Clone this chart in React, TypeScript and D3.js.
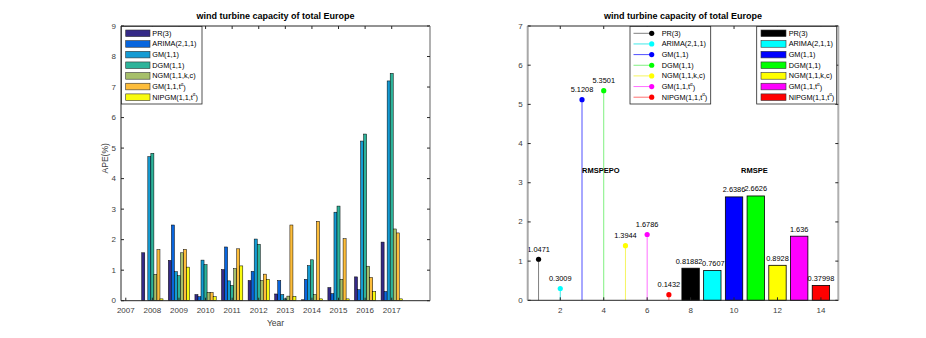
import React from "react";
import * as d3 from "d3";

const years = [2007, 2008, 2009, 2010, 2011, 2012, 2013, 2014, 2015, 2016, 2017];
const models = ["PR(3)", "ARIMA(2,1,1)", "GM(1,1)", "DGM(1,1)", "NGM(1,1,k,c)", "GM(1,1,t", "NIPGM(1,1,t"];
const modelSup = [false, false, false, false, false, true, true];
const prAPE = [0, 1.57, 1.32, 0.2, 1.02, 0.66, 0.22, 0.03, 0.43, 0.78, 1.92];
const arimaAPE = [0, 0, 2.48, 0.13, 1.76, 0.96, 0.66, 0.7, 0.23, 0.36, 0.3];
const gmAPE = [0, 4.72, 0.95, 1.33, 0.65, 2.02, 0.2, 1.15, 2.9, 5.23, 7.2];
const dgmAPE = [0, 4.83, 0.82, 1.18, 0.5, 1.85, 0.06, 1.34, 3.1, 5.46, 7.45];
const ngmAPE = [0, 0.86, 1.57, 0.27, 1.05, 0.66, 0.15, 0.2, 0.7, 1.13, 2.35];
const gmtAPE = [0, 1.67, 1.68, 0.27, 1.7, 0.87, 2.48, 2.6, 2.03, 0.76, 2.22];
const nipgmAPE = [0, 0.06, 1.1, 0.13, 1.14, 0.7, 0.14, 0.06, 0.06, 0.3, 0.06];
const apeSeries = [prAPE, arimaAPE, gmAPE, dgmAPE, ngmAPE, gmtAPE, nipgmAPE];
const parulaColors = ["#352a87", "#0865dd", "#149bd3", "#2db39a", "#a6bf6a", "#fdbd3a", "#f9fb0e"];
const leftYTicks = [0, 1, 2, 3, 4, 5, 6, 7, 8, 9];

const rmspepoX = [1, 2, 3, 4, 5, 6, 7];
const rmspepo = [1.0471, 0.3009, 5.1208, 5.3501, 1.3944, 1.6786, 0.1432];
const rmspepoLabels = ["1.0471", "0.3009", "5.1208", "5.3501", "1.3944", "1.6786", "0.1432"];
const rmspeX = [8, 9, 10, 11, 12, 13, 14];
const rmspe = [0.81882, 0.7607, 2.6386, 2.6626, 0.8928, 1.636, 0.37998];
const rmspeLabels = ["0.81882", "0.7607", "2.6386", "2.6626", "0.8928", "1.636", "0.37998"];
const pureColors = ["#000000", "#00ffff", "#0000ff", "#00ff00", "#ffff00", "#ff00ff", "#ff0000"];
const stemColors = ["#808080", "#40e8e8", "#5050ff", "#80f080", "#f5f560", "#ff70ff", "#ff7070"];
const rightXTicks = [2, 4, 6, 8, 10, 12, 14];
const rightYTicks = [0, 1, 2, 3, 4, 5, 6, 7];

const FONT = "'Liberation Sans', Arial, Helvetica, sans-serif";
const AX = "#262626";
const TICK = "#404040";

function LegendLabel({ i, x, y }: { i: number; x: number; y: number }) {
  return (
    <text x={x} y={y} fontSize={7.3} fill="#000" dominantBaseline="central">
      {models[i]}
      {modelSup[i] ? (
        <>
          <tspan fontSize={4.5} dy={-3}>α</tspan>
          <tspan dy={3}>)</tspan>
        </>
      ) : null}
    </text>
  );
}

export default function App() {
  const L = { x0: 121, x1: 430, y0: 300.7, y1: 26 };
  const xl = d3.scaleLinear().domain([2006.82, 2018.44]).range([L.x0, L.x1]);
  const yl = d3.scaleLinear().domain([0, 9]).range([L.y0, L.y1]);
  const bw = 0.8 / 7;
  const bwPx = xl(2007 + bw) - xl(2007);

  const R = { x0: 527.7, x1: 838.3, y0: 300.3, y1: 26 };
  const xr = d3.scaleLinear().domain([0.5, 14.8]).range([R.x0, R.x1]);
  const yr = d3.scaleLinear().domain([0, 7]).range([R.y0, R.y1]);
  const barW = xr(1.8) - xr(1);

  const rowY = (k: number) => 33.3 + k * 10.65;

  return (
    <svg width={926} height={338} style={{ display: "block", position: "absolute", left: 0, top: 0 }} fontFamily={FONT}>
      <rect width={926} height={338} fill="#fff" />
      {/* ===== LEFT CHART ===== */}
      <g>
        {apeSeries.map((s, si) =>
          s.map((v, yi) => {
            const cx = years[yi] + (si - 3) * bw;
            const x = xl(cx) - bwPx / 2;
            const h = L.y0 - yl(v);
            return (
              <rect key={`b${si}-${yi}`} x={x} y={yl(v)} width={bwPx} height={Math.max(h, 0)}
                fill={parulaColors[si]} stroke="#000" strokeWidth={0.5} />
            );
          })
        )}
        <line x1={L.x0} x2={L.x1} y1={L.y0} y2={L.y0} stroke={AX} strokeWidth={1} />
        <line x1={L.x0} x2={L.x1} y1={L.y1} y2={L.y1} stroke={AX} strokeWidth={1} />
        <line x1={L.x0} x2={L.x0} y1={L.y1} y2={L.y0} stroke={AX} strokeWidth={1} />
        <line x1={L.x1} x2={L.x1} y1={L.y1} y2={L.y0} stroke="#b0b0b0" strokeWidth={2} />
        {leftYTicks.map((t) => (
          <g key={`ly${t}`}>
            <line x1={L.x0} x2={L.x0 + 3} y1={yl(t)} y2={yl(t)} stroke={AX} />
            <line x1={L.x1 - 3} x2={L.x1} y1={yl(t)} y2={yl(t)} stroke={AX} />
            <text x={L.x0 - 5} y={yl(t)} fontSize={8} fill={TICK} textAnchor="end" dominantBaseline="central">{t}</text>
          </g>
        ))}
        {years.map((t) => (
          <g key={`lx${t}`}>
            <line x1={xl(t)} x2={xl(t)} y1={L.y0} y2={L.y0 - 3} stroke={AX} />
            <line x1={xl(t)} x2={xl(t)} y1={L.y1} y2={L.y1 + 3} stroke={AX} />
            <text x={xl(t)} y={L.y0 + 10} fontSize={8} fill={TICK} textAnchor="middle" dominantBaseline="central">{t}</text>
          </g>
        ))}
        <text x={(L.x0 + L.x1) / 2} y={19} fontSize={9} fontWeight="bold" textAnchor="middle" fill="#000">wind turbine capacity of total Europe</text>
        <text x={(L.x0 + L.x1) / 2} y={323} fontSize={8.5} textAnchor="middle" dominantBaseline="central" fill={TICK}>Year</text>
        <text transform={`translate(105,${(L.y0 + L.y1) / 2 - 5}) rotate(-90)`} fontSize={8.5} textAnchor="middle" dominantBaseline="central" fill={TICK}>APE(%)</text>
        <rect x={121.5} y={26.5} width={80.5} height={77.5} fill="#fff" stroke={AX} strokeWidth={0.8} />
        {models.map((m, i) => (
          <g key={`ll${i}`}>
            <rect x={125.7} y={rowY(i) - 3.3} width={24.3} height={6.6} fill={parulaColors[i]} stroke="#333" strokeWidth={0.6} />
            <LegendLabel i={i} x={152.3} y={rowY(i)} />
          </g>
        ))}
      </g>

      {/* ===== RIGHT CHART ===== */}
      <g>
        {rmspepo.map((v, i) => (
          <g key={`st${i}`}>
            <line x1={xr(rmspepoX[i])} x2={xr(rmspepoX[i])} y1={yr(0)} y2={yr(v)} stroke={stemColors[i]} strokeWidth={1} />
            <circle cx={xr(rmspepoX[i])} cy={yr(v)} r={2.6} fill={pureColors[i]} />
            <text x={xr(rmspepoX[i])} y={yr(v) - 10} fontSize={7.4} fill="#000" textAnchor="middle" dominantBaseline="central">{rmspepoLabels[i]}</text>
          </g>
        ))}
        {rmspe.map((v, i) => (
          <g key={`rb${i}`}>
            <rect x={xr(rmspeX[i]) - barW / 2} y={yr(v)} width={barW} height={R.y0 - yr(v)} fill={pureColors[i]} stroke="#000" strokeWidth={0.8} />
            <text x={xr(rmspeX[i]) + (i === 0 ? -1.5 : i === 1 ? 1 : 0)} y={yr(v) - 7} fontSize={7.4} fill="#000" textAnchor="middle" dominantBaseline="central">{rmspeLabels[i]}</text>
          </g>
        ))}
        <text x={xr(3)} y={yr(3.32)} fontSize={7.5} fontWeight="bold" dominantBaseline="central" fill="#000">RMSPEPO</text>
        <text x={xr(10.32)} y={yr(3.32)} fontSize={7.5} fontWeight="bold" dominantBaseline="central" fill="#000">RMSPE</text>
        <line x1={R.x0} x2={R.x1} y1={R.y0} y2={R.y0} stroke={AX} strokeWidth={1} />
        <line x1={R.x0} x2={R.x1} y1={R.y1} y2={R.y1} stroke={AX} strokeWidth={1} />
        <line x1={R.x0} x2={R.x0} y1={R.y1} y2={R.y0} stroke="#a8a8a8" strokeWidth={2} />
        <line x1={R.x1} x2={R.x1} y1={R.y1} y2={R.y0} stroke="#b0b0b0" strokeWidth={2} />
        {rightYTicks.map((t) => (
          <g key={`ry${t}`}>
            <line x1={R.x0} x2={R.x0 + 3} y1={yr(t)} y2={yr(t)} stroke={AX} />
            <line x1={R.x1 - 3} x2={R.x1} y1={yr(t)} y2={yr(t)} stroke={AX} />
            <text x={R.x0 - 5} y={yr(t)} fontSize={8} fill={TICK} textAnchor="end" dominantBaseline="central">{t}</text>
          </g>
        ))}
        {rightXTicks.map((t) => (
          <g key={`rx${t}`}>
            <line x1={xr(t)} x2={xr(t)} y1={R.y0} y2={R.y0 - 3} stroke={AX} />
            <line x1={xr(t)} x2={xr(t)} y1={R.y1} y2={R.y1 + 3} stroke={AX} />
            <text x={xr(t)} y={R.y0 + 10} fontSize={8} fill={TICK} textAnchor="middle" dominantBaseline="central">{t}</text>
          </g>
        ))}
        <text x={(R.x0 + R.x1) / 2} y={19} fontSize={9} fontWeight="bold" textAnchor="middle" fill="#000">wind turbine capacity of total Europe</text>
        <rect x={630} y={26.5} width={80.7} height={77.5} fill="#fff" stroke={AX} strokeWidth={0.8} />
        {models.map((m, i) => (
          <g key={`sl${i}`}>
            <line x1={633.5} x2={651.7} y1={rowY(i)} y2={rowY(i)} stroke={stemColors[i]} strokeWidth={1} />
            <circle cx={651.7} cy={rowY(i)} r={2.6} fill={pureColors[i]} />
            <LegendLabel i={i} x={661.7} y={rowY(i)} />
          </g>
        ))}
        <rect x={756.7} y={26.5} width={80} height={77.5} fill="#fff" stroke={AX} strokeWidth={0.8} />
        {models.map((m, i) => (
          <g key={`bl${i}`}>
            <rect x={761} y={rowY(i) - 3.3} width={25} height={6.6} fill={pureColors[i]} stroke="#333" strokeWidth={0.6} />
            <LegendLabel i={i} x={788.7} y={rowY(i)} />
          </g>
        ))}
      </g>
    </svg>
  );
}
